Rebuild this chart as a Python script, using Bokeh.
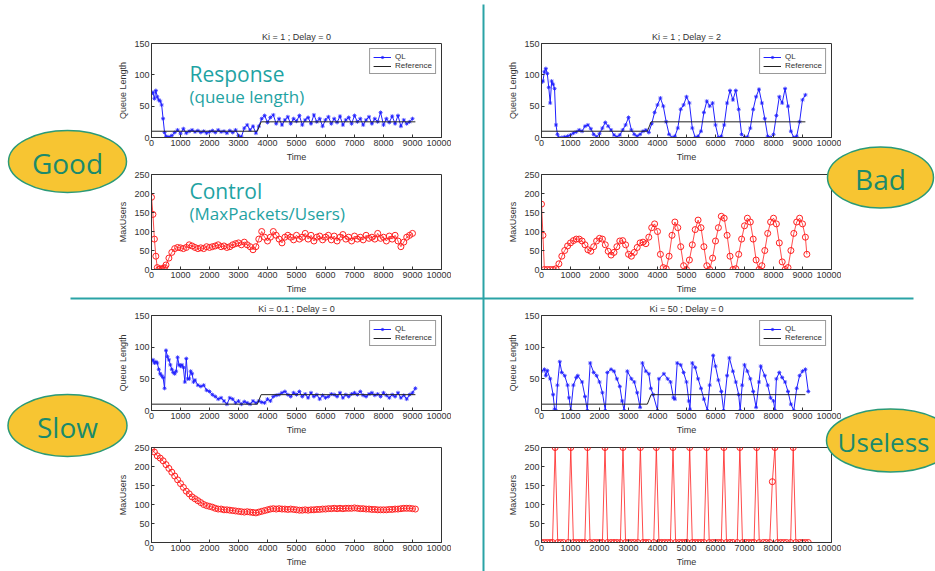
from bokeh.plotting import figure
from bokeh.models import Range1d, FixedTicker, Legend, LegendItem, Spacer
from bokeh.layouts import column
from bokeh.embed import file_html
from bokeh.resources import INLINE
from bokeh.core.properties import value

# ---------------- data ----------------
X_TICKS = [0, 1000, 2000, 3000, 4000, 5000, 6000, 7000, 8000, 9000, 10000]
QL_TICKS = [0, 50, 100, 150]
MU_TICKS = [0, 50, 100, 150, 200, 250]

TITLES = ["Ki = 1 ; Delay = 0", "Ki = 1 ; Delay = 2", "Ki = 0.1 ; Delay = 0", "Ki = 50 ; Delay = 0"]
REF_T = [0, 3650, 3780, 9100]
REF_V = [10, 10, 25, 25]

# Good: Ki = 1, Delay = 0
TL_QL = [(0,70),(50,72),(100,62),(150,75),(200,65),(250,60),(300,58),(350,52),(400,30),(450,8),(500,2),
         (600,1),(700,3),(800,8),(900,12),(1000,6),(1100,14),(1200,7),(1300,10),(1400,12),(1500,9),(1600,11),
         (1700,8),(1800,10),(1900,7),(2000,9),(2100,11),(2200,8),(2300,12),(2400,9),(2500,10),(2600,7),
         (2700,11),(2800,8),(2900,12),(3000,3),(3100,1),(3200,15),(3300,20),(3400,12),(3500,18),(3600,7),
         (3700,18),(3800,30),(3900,35),(4000,24),(4100,32),(4200,36),(4300,22),(4400,30),(4500,20),(4600,28),
         (4700,33),(4800,22),(4900,30),(5000,26),(5100,35),(5200,20),(5300,28),(5400,32),(5500,22),(5600,36),
         (5700,25),(5800,30),(5900,18),(6000,28),(6100,33),(6200,22),(6300,30),(6400,24),(6500,34),(6600,20),
         (6700,28),(6800,32),(6900,22),(7000,35),(7100,25),(7200,30),(7300,20),(7400,28),(7500,33),(7600,22),
         (7700,30),(7800,25),(7900,40),(8000,20),(8100,30),(8200,24),(8300,34),(8400,22),(8500,35),(8600,18),
         (8700,28),(8800,22),(8900,25),(9000,30)]
TL_MU = [(0,190),(50,145),(100,80),(150,35),(200,5),(250,0),(300,2),(350,0),(400,3),(450,5),(500,12),
         (600,30),(700,45),(800,55),(900,58),(1000,57),(1100,55),(1200,58),(1300,65),(1400,62),(1500,58),
         (1600,55),(1700,57),(1800,55),(1900,60),(2000,58),(2100,60),(2200,62),(2300,65),(2400,60),(2500,62),
         (2600,58),(2700,60),(2800,65),(2900,68),(3000,70),(3100,65),(3200,72),(3300,65),(3400,60),(3500,52),
         (3600,60),(3700,80),(3800,100),(3900,85),(4000,75),(4100,85),(4200,100),(4300,90),(4400,80),(4500,70),
         (4600,85),(4700,90),(4800,85),(4900,78),(5000,90),(5100,80),(5200,85),(5300,95),(5400,80),(5500,90),
         (5600,75),(5700,85),(5800,88),(5900,78),(6000,85),(6100,90),(6200,78),(6300,88),(6400,75),(6500,85),
         (6600,92),(6700,80),(6800,85),(6900,75),(7000,88),(7100,80),(7200,85),(7300,78),(7400,90),(7500,82),
         (7600,85),(7700,80),(7800,95),(7900,82),(8000,85),(8100,75),(8200,88),(8300,80),(8400,90),(8500,75),
         (8600,60),(8700,72),(8800,85),(8900,90),(9000,95)]

# Bad: Ki = 1, Delay = 2
TR_QL = [(0,88),(50,90),(100,105),(150,110),(200,102),(250,80),(300,55),(350,90),(400,85),(450,78),(500,20),
         (550,5),(600,0),(700,0),(800,1),(900,2),(1000,4),(1100,7),(1200,9),(1300,12),(1400,10),(1500,18),
         (1600,20),(1700,14),(1800,5),(1900,1),(2000,6),(2100,15),(2200,24),(2300,18),(2400,12),(2500,4),
         (2600,1),(2700,4),(2800,12),(2900,20),(3000,32),(3100,12),(3200,5),(3300,2),(3400,5),(3500,10),
         (3600,12),(3700,8),(3800,22),(3900,40),(4000,52),(4100,63),(4200,50),(4300,25),(4400,5),(4500,0),
         (4600,2),(4700,15),(4800,45),(4900,52),(5000,65),(5100,55),(5200,15),(5300,0),(5400,2),(5500,10),
         (5600,40),(5700,58),(5800,50),(5900,55),(6000,20),(6100,0),(6200,2),(6300,20),(6400,55),(6500,75),
         (6600,60),(6700,75),(6800,45),(6900,5),(7000,0),(7100,1),(7200,15),(7300,45),(7400,65),(7500,77),
         (7600,55),(7700,30),(7800,2),(7900,0),(8000,5),(8100,35),(8200,65),(8300,55),(8400,78),(8500,50),
         (8600,10),(8700,0),(8800,2),(8900,25),(9000,60),(9100,68)]
TR_MU = [(0,172),(50,90),(100,0),(200,0),(300,0),(400,0),(500,2),(600,15),(700,35),(800,50),(900,62),
         (1000,70),(1100,76),(1200,80),(1300,80),(1400,75),(1500,65),(1600,52),(1700,48),(1800,60),(1900,75),
         (2000,82),(2100,80),(2200,65),(2300,48),(2400,38),(2500,45),(2600,60),(2700,75),(2800,76),(2900,65),
         (3000,40),(3100,35),(3200,45),(3300,58),(3400,70),(3500,72),(3600,68),(3700,85),(3800,110),(3900,120),
         (4000,100),(4100,40),(4200,5),(4300,2),(4400,35),(4500,90),(4600,125),(4700,110),(4800,60),(4900,10),
         (5000,0),(5100,25),(5200,65),(5300,105),(5400,130),(5500,110),(5600,60),(5700,10),(5800,0),(5900,30),
         (6000,75),(6100,110),(6200,140),(6300,135),(6400,90),(6500,35),(6600,0),(6700,2),(6800,40),(6900,80),
         (7000,115),(7100,135),(7200,125),(7300,80),(7400,25),(7500,0),(7600,10),(7700,50),(7800,95),(7900,125),
         (8000,135),(8100,120),(8200,70),(8300,20),(8400,0),(8500,5),(8600,50),(8700,95),(8800,125),(8900,135),
         (9000,120),(9100,85),(9150,40)]

# Slow: Ki = 0.1, Delay = 0
BL_QL = [(0,78),(50,80),(100,75),(150,77),(200,75),(250,65),(300,58),(350,55),(400,52),(450,35),(500,95),
         (550,85),(600,80),(650,72),(700,65),(750,60),(800,58),(850,62),(900,84),(950,72),(1000,70),(1050,72),
         (1100,68),(1150,45),(1200,82),(1250,50),(1300,50),(1350,62),(1400,58),(1450,45),(1500,48),(1600,40),
         (1700,38),(1800,40),(1900,32),(2000,30),(2100,25),(2200,22),(2300,18),(2400,20),(2500,15),(2600,10),
         (2700,20),(2800,18),(2900,12),(3000,15),(3100,10),(3200,14),(3300,12),(3400,10),(3500,15),(3600,12),
         (3700,15),(3800,13),(3900,12),(4000,18),(4100,15),(4200,22),(4300,24),(4400,25),(4500,28),(4600,30),
         (4700,25),(4800,22),(4900,28),(5000,25),(5100,30),(5200,22),(5300,26),(5400,20),(5500,28),(5600,22),
         (5700,25),(5800,18),(5900,24),(6000,20),(6100,22),(6200,26),(6300,25),(6400,22),(6500,28),(6600,20),
         (6700,25),(6800,22),(6900,26),(7000,28),(7100,25),(7200,30),(7300,24),(7400,22),(7500,26),(7600,28),
         (7700,24),(7800,26),(7900,22),(8000,28),(8100,24),(8200,20),(8300,25),(8400,22),(8500,28),(8600,20),
         (8700,24),(8800,18),(8900,25),(9000,28),(9100,35)]
BL_MU = [(0,245),(100,238),(200,228),(300,222),(400,215),(500,205),(600,195),(700,185),(800,175),(900,165),
         (1000,155),(1100,145),(1200,135),(1300,128),(1400,120),(1500,115),(1600,110),(1700,105),(1800,100),
         (1900,97),(2000,95),(2100,93),(2200,90),(2300,88),(2400,88),(2500,86),(2600,86),(2700,85),(2800,84),
         (2900,83),(3000,82),(3100,81),(3200,80),(3300,81),(3400,80),(3500,79),(3600,78),(3700,80),(3800,82),
         (3900,84),(4000,86),(4100,88),(4200,89),(4300,88),(4400,89),(4500,88),(4600,88),(4700,87),(4800,88),
         (4900,87),(5000,86),(5100,85),(5200,85),(5300,86),(5400,85),(5500,86),(5600,86),(5700,87),(5800,87),
         (5900,88),(6000,88),(6100,89),(6200,89),(6300,90),(6400,89),(6500,90),(6600,89),(6700,90),(6800,90),
         (6900,90),(7000,91),(7100,90),(7200,89),(7300,89),(7400,88),(7500,88),(7600,87),(7700,87),(7800,86),
         (7900,86),(8000,86),(8100,86),(8200,87),(8300,87),(8400,88),(8500,88),(8600,89),(8700,90),(8800,90),
         (8900,90),(9000,89),(9100,88)]

# Useless: Ki = 50, Delay = 0
BR_QL = [(0,62),(100,65),(150,55),(200,63),(300,50),(400,25),(450,2),(500,0),(550,40),(630,77),(700,60),
         (800,55),(900,40),(950,20),(1010,0),(1100,40),(1200,52),(1250,55),(1400,45),(1500,22),(1580,0),
         (1680,75),(1800,60),(1900,55),(2000,45),(2100,28),(2200,0),(2270,60),(2400,65),(2500,62),(2600,50),
         (2700,38),(2780,15),(2850,0),(2960,62),(3100,50),(3200,45),(3300,28),(3400,5),(3480,75),(3600,62),
         (3700,58),(3770,35),(3850,25),(4000,0),(4050,50),(4220,58),(4350,50),(4450,45),(4550,20),(4600,18),
         (4680,75),(4800,72),(4900,60),(5000,45),(5080,15),(5120,2),(5200,75),(5300,68),(5400,50),(5500,35),
         (5600,18),(5720,0),(5800,40),(5920,87),(6000,70),(6100,48),(6200,30),(6280,0),(6400,55),(6480,83),
         (6600,62),(6700,45),(6800,25),(6850,0),(6920,40),(7000,72),(7100,62),(7200,50),(7300,30),(7400,5),
         (7500,45),(7560,70),(7700,55),(7800,40),(7900,20),(8000,15),(8050,0),(8100,50),(8200,60),(8300,52),
         (8400,45),(8500,30),(8600,10),(8700,0),(8800,35),(8900,55),(9000,62),(9100,65),(9200,30)]
BR_MU = [(0,0),(100,0),(200,0),(300,0),(380,0),(470,250),(560,0),(660,0),(760,0),(920,0),(1010,250),
         (1100,0),(1200,0),(1300,0),(1400,0),(1495,0),(1585,250),(1675,0),(1800,0),(1900,0),(2000,0),(2100,0),
         (2190,250),(2280,0),(2400,0),(2500,0),(2600,0),(2720,0),(2810,250),(2900,0),(3000,0),(3100,0),(3200,0),
         (3320,0),(3410,250),(3500,0),(3600,0),(3700,0),(3870,0),(3960,250),(4050,0),(4150,0),(4250,0),(4350,0),
         (4445,0),(4535,250),(4625,0),(4750,0),(4850,0),(4950,0),(5020,0),(5110,250),(5200,0),(5300,0),(5400,0),
         (5500,0),(5605,0),(5695,250),(5785,0),(5900,0),(6000,0),(6100,0),(6200,0),(6290,250),(6380,0),(6500,0),
         (6600,0),(6750,0),(6840,250),(6930,0),(7050,0),(7150,0),(7250,0),(7330,0),(7420,250),(7510,0),(7650,0),
         (7750,0),(7870,0),(7960,160),(8050,250),(8140,0),(8250,0),(8350,0),(8450,0),(8590,0),(8680,250),(8770,0),
         (8900,0),(9000,0),(9100,0),(9200,0)]

QUADRANTS = [
    (TITLES[0], TL_QL, TL_MU),
    (TITLES[1], TR_QL, TR_MU),
    (TITLES[2], BL_QL, BL_MU),
    (TITLES[3], BR_QL, BR_MU),
]
VERDICTS = ["Good", "Bad", "Slow", "Useless"]

# ---------------- styling / layout ----------------
W, H = 935, 571
FW = 290
AX_FONT = "Liberation Sans"
AX_COL = "#333333"
BLUE = "#2020ff"
RED = "#ff2020"

# frame positions in image pixels: left, (top, height) of upper and lower panels
PANEL_POS = [(151, (43, 94), (174, 95)), (541, (43, 94), (174, 95)),
             (151, (315, 95), (447, 95)), (541, (315, 95), (447, 95))]


def make_fig(left, top, fh, ymax, yticks, ylabel, title=None):
    ml, mr, mb = 40, 10, 30
    mt = 22 if title is not None else 6
    p = figure(width=FW + ml + mr, height=fh + mt + mb,
               x_range=Range1d(0, 10000), y_range=Range1d(0, ymax),
               min_border_left=ml, min_border_right=mr, min_border_top=mt, min_border_bottom=mb,
               toolbar_location=None, output_backend="svg", title=title,
               styles={"position": "absolute", "left": f"{left - ml}px", "top": f"{top - mt}px"})
    p.background_fill_color = "white"
    p.border_fill_alpha = 0
    p.outline_line_color = AX_COL
    p.outline_line_width = 1
    p.xgrid.visible = False
    p.ygrid.visible = False
    if title is not None:
        p.title.text_font = AX_FONT
        p.title.text_font_size = "9px"
        p.title.text_font_style = "normal"
        p.title.text_color = AX_COL
        p.title.align = "center"
        p.title.standoff = 4
    p.xaxis.ticker = FixedTicker(ticks=X_TICKS)
    p.yaxis.ticker = FixedTicker(ticks=yticks)
    p.xaxis.axis_label = "Time"
    p.yaxis.axis_label = ylabel
    for ax in (p.xaxis, p.yaxis):
        ax.major_tick_in = 3
        ax.major_tick_out = 0
        ax.minor_tick_in = 0
        ax.minor_tick_out = 0
        ax.axis_line_color = AX_COL
        ax.major_tick_line_color = AX_COL
        ax.major_label_text_font = AX_FONT
        ax.major_label_text_font_size = "9px"
        ax.major_label_text_color = AX_COL
        ax.major_label_standoff = 2
        ax.axis_label_text_font = AX_FONT
        ax.axis_label_text_font_size = "9px"
        ax.axis_label_text_font_style = "normal"
        ax.axis_label_text_color = AX_COL
        ax.axis_label_standoff = 3
    return p


figs = []
for (title, ql, mu), (left, up, lo) in zip(QUADRANTS, PANEL_POS):
    tu, hu = up
    tl, hl = lo
    # response (queue length)
    pu = make_fig(left, tu, hu, 150, QL_TICKS, "Queue Length", title)
    qt = [a for a, b in ql]
    qv = [b for a, b in ql]
    r_line = pu.line(qt, qv, line_color=BLUE, line_width=1)
    r_mark = pu.scatter(qt, qv, marker="asterisk", size=4, line_color=BLUE, line_width=0.8)
    r_ref = pu.line(REF_T, REF_V, line_color="#222222", line_width=1)
    leg = Legend(items=[LegendItem(label="QL", renderers=[r_line, r_mark]),
                        LegendItem(label="Reference", renderers=[r_ref])],
                 location="top_right", label_text_font=AX_FONT, label_text_font_size="8px",
                 label_text_color=AX_COL, glyph_width=18, glyph_height=8, label_height=8,
                 spacing=0, padding=3, margin=5, label_standoff=4,
                 border_line_color=AX_COL, border_line_width=1,
                 background_fill_color="white", background_fill_alpha=1)
    pu.add_layout(leg)
    figs.append(pu)

    # control (MaxUsers)
    pl = make_fig(left, tl, hl, 250, MU_TICKS, "MaxUsers")
    mt_ = [a for a, b in mu]
    mv = [b for a, b in mu]
    pl.line(mt_, mv, line_color=RED, line_width=0.8)
    pl.scatter(mt_, mv, marker="circle", size=6, fill_color=None, line_color=RED, line_width=1)
    figs.append(pl)

plots = column(Spacer(width=W, height=H), *figs, styles={"position": "relative"})

# ---------------- slide decorations: separate root on top, image pixel coordinates ----------------
ov = figure(width=W, height=H, x_range=Range1d(0, W), y_range=Range1d(H, 0),
            x_axis_type=None, y_axis_type=None, min_border=0,
            min_border_left=0, min_border_right=0, min_border_top=0, min_border_bottom=0,
            toolbar_location=None, output_backend="svg",
            styles={"position": "absolute", "left": "0px", "top": "0px"})
ov.background_fill_alpha = 0
ov.border_fill_alpha = 0
ov.outline_line_color = None

TEAL = "#2aa3a6"
ov.segment(x0=[483, 70], y0=[4, 298], x1=[483, 913], y1=[575, 298], line_color=TEAL, line_width=2)

ov.text(x=[189, 189], y=[73, 190], text=["Response", "Control"],
        text_font=value("Open Sans"), text_font_size="21px", text_color="#1fa3a3",
        text_align="left", text_baseline="middle")
ov.text(x=[189, 189], y=[96, 213], text=["(queue length)", "(MaxPackets/Users)"],
        text_font=value("Open Sans"), text_font_size="17px", text_color="#1fa3a3",
        text_align="left", text_baseline="middle")

ov.ellipse(x=[67, 880, 67, 890], y=[161, 177, 425, 440], width=[118, 106, 119, 128], height=[62, 61, 62, 63],
           fill_color="#f7c532", line_color="#2a9a78", line_width=1.5)
ov.text(x=[67, 880, 67], y=[162, 178, 426], text=VERDICTS[:3],
        text_font=value("Open Sans"), text_font_size="28px", text_color="#1b8a6c",
        text_align="center", text_baseline="middle")
ov.text(x=[883], y=[441], text=VERDICTS[3:],
        text_font=value("Open Sans"), text_font_size="26px", text_color="#1b8a6c",
        text_align="center", text_baseline="middle")

open("out.html", "w").write(file_html([plots, ov], INLINE))
